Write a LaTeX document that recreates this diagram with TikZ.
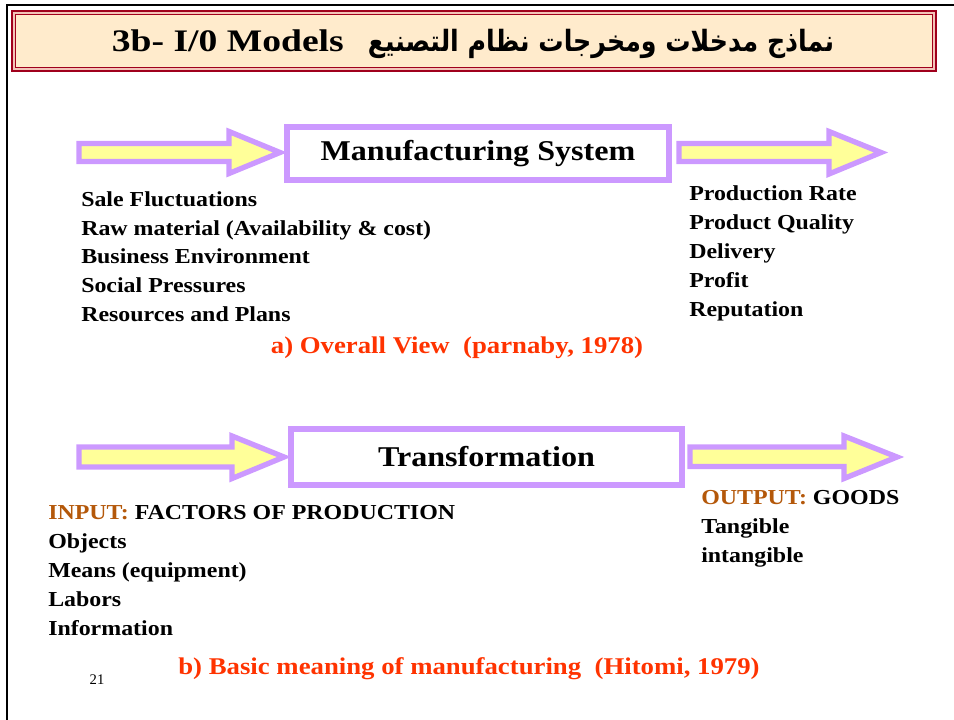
\documentclass[tikz,border=0pt]{standalone}
\usepackage{fontspec}
\setmainfont{Liberation Serif}
\newfontfamily\widefont[FakeStretch=1.12]{Liberation Serif}
\newfontfamily\capfont[FakeStretch=1.115]{Liberation Serif}
\newfontfamily\titlefont[FakeStretch=1.2]{Liberation Serif}
\newfontfamily\arabicfont[Script=Arabic,FakeStretch=0.86]{DejaVu Sans}
\TeXXeTstate=1
\definecolor{arrowpurple}{HTML}{CC99FF}
\definecolor{arrowyellow}{HTML}{FFFF99}
\definecolor{titlefill}{HTML}{FFEBCC}
\definecolor{titlemid}{HTML}{F2C4B8}
\definecolor{titlered}{HTML}{A0001C}
\definecolor{capred}{HTML}{FF3300}
\definecolor{iobrown}{HTML}{B4580A}
\tikzset{
  fatarrow/.style={draw=arrowpurple, fill=arrowyellow, line width=4pt, line join=miter},
  procbox/.style={draw=arrowpurple, fill=white, line width=4.3pt},
  boxtext/.style={font=\widefont\fontsize{21.5}{25}\selectfont\bfseries, inner sep=0pt},
  listtext/.style={font=\widefont\fontsize{16}{19}\selectfont\bfseries, anchor=base west, inner sep=0pt},
  captext/.style={font=\capfont\fontsize{18}{21}\selectfont\bfseries, text=capred, anchor=base, inner sep=0pt},
}
\begin{document}
\begin{tikzpicture}[x=0.75pt,y=-0.75pt]
\useasboundingbox (0,0) rectangle (954,720);
% slide frame
\draw[line width=1.6pt, black] (7,722) -- (7,5) -- (956,5);
% title
\draw[titlered, line width=1.4pt, fill=titlemid] (12,11) rectangle (936,71);
\draw[titlered, line width=1.4pt, fill=titlefill] (15.5,14.5) rectangle (932.5,67.5);
\node[inner sep=0pt, anchor=base] (title) at (473,52) {\titlefont\fontsize{23.5}{27}\selectfont\bfseries 3b- I/0 Models\hspace{18pt}{\arabicfont\fontsize{22}{26}\selectfont\bfseries\beginR نماذج مدخلات ومخرجات نظام التصنيع\endR}};

% ---- part a
\draw[fatarrow] (79,143.5) -- (229,143.5) -- (229,131.5) -- (280,152.5) -- (229,173.5) -- (229,161.5) -- (79,161.5) -- cycle;
\node[procbox, minimum width=286.5pt, minimum height=39.75pt] (ms) at (478,153.5) {};
\node[boxtext] (mst) at (ms) {Manufacturing System};
\draw[fatarrow] (679,143.5) -- (829,143.5) -- (829,131.5) -- (881,152.5) -- (829,174) -- (829,161.5) -- (679,161.5) -- cycle;

\node[listtext] (in1) at (81,206.3) {Sale Fluctuations};
\node[listtext] (in2) at (81,235.1) {Raw material (Availability \& cost)};
\node[listtext] (in3) at (81,264) {Business Environment};
\node[listtext] (in4) at (81,292.8) {Social Pressures};
\node[listtext] (in5) at (81,321.6) {Resources and Plans};

\node[listtext] (out1) at (689,201) {Production Rate};
\node[listtext] (out2) at (689,229.8) {Product Quality};
\node[listtext] (out3) at (689,258.6) {Delivery};
\node[listtext] (out4) at (689,287.4) {Profit};
\node[listtext] (out5) at (689,316.2) {Reputation};

\node[captext] (capa) at (457,354) {a) Overall View\ \ (parnaby, 1978)};

% ---- part b
\draw[fatarrow] (79,447) -- (232,447) -- (232,436) -- (284,457) -- (232,478.5) -- (232,467) -- (79,467) -- cycle;
\node[procbox, minimum width=293.25pt, minimum height=42pt] (tr) at (486.5,457) {};
\node[boxtext] (trt) at (tr) {Transformation};
\draw[fatarrow] (690,447) -- (844,447) -- (844,436) -- (897,457) -- (844,478.5) -- (844,466.5) -- (690,466.5) -- cycle;

\node[listtext] (bin1) at (48,519) {\textcolor{iobrown}{INPUT:} FACTORS OF PRODUCTION};
\node[listtext] (bin2) at (48,548) {Objects};
\node[listtext] (bin3) at (48,577) {Means (equipment)};
\node[listtext] (bin4) at (48,606) {Labors};
\node[listtext] (bin5) at (48,635) {Information};

\node[listtext] (bout1) at (701,504) {\textcolor{iobrown}{OUTPUT:} GOODS};
\node[listtext] (bout2) at (701,533) {Tangible};
\node[listtext] (bout3) at (701,562) {intangible};

\node[captext] (capb) at (469,674) {b) Basic meaning of manufacturing\ \ (Hitomi, 1979)};
\node[font=\fontsize{11}{13}\selectfont, inner sep=0pt] (pg) at (97,680) {21};
\end{tikzpicture}
\end{document}
